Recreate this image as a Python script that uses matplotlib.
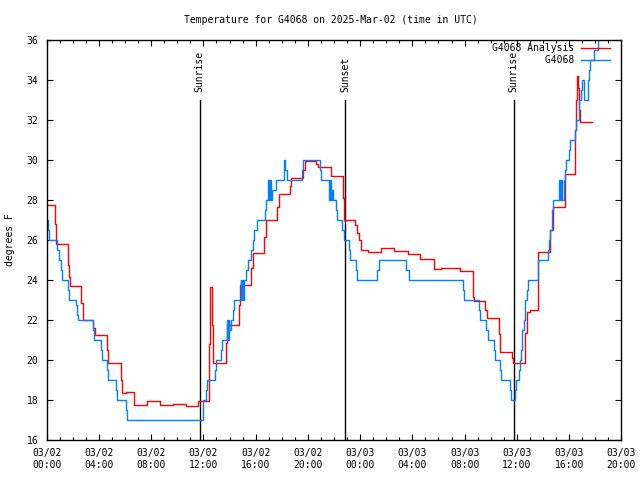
import matplotlib
matplotlib.use("Agg")
import matplotlib.pyplot as plt
from matplotlib.ticker import MultipleLocator

# hours since 2025-03-02 00:00 UTC, temperature in F (step data)
obs_hours = [0.00, 0.12, 0.20, 0.81, 0.92, 1.12, 1.20, 1.66, 1.73, 2.27, 2.34, 2.42,
             3.57, 3.65, 4.14, 4.24, 4.64, 4.72, 5.33, 5.41, 6.05, 6.15,
             12.00, 12.18, 12.31, 12.90, 12.97, 13.32, 13.41, 13.84, 13.89, 13.95,
             13.99, 14.08, 14.30, 14.38, 14.87, 14.91, 14.97, 15.02, 15.07, 15.27,
             15.43, 15.62, 15.79, 15.89, 16.14, 16.73, 16.80, 16.96, 17.03, 17.11,
             17.18, 17.29, 17.59, 18.18, 18.28, 18.39, 19.56, 19.62, 20.92, 20.97,
             21.63, 21.71, 21.79, 21.86, 21.92, 22.15, 22.22, 22.63, 22.73, 23.16,
             23.24, 23.68, 23.75, 25.33, 25.41, 27.54, 27.71, 31.88, 31.95, 33.07,
             33.15, 33.64, 33.79, 34.25, 34.35, 34.74, 34.79, 35.45, 35.53, 35.83,
             35.91, 36.14, 36.21, 36.29, 36.37, 36.42, 36.52, 36.65, 36.78, 36.83,
             37.61, 38.39, 38.49, 38.57, 38.70, 38.74, 39.20, 39.28, 39.41, 39.49,
             39.59, 39.72, 39.80, 39.97, 40.10, 40.43, 40.56, 40.79, 40.94, 41.02,
             41.12, 41.48, 41.53, 41.58, 41.94, 42.20, 42.33, 42.48, 42.60]
obs_temp = [27.0, 26.5, 26.0, 25.5, 25.0, 24.5, 24.0, 23.5, 23.0, 22.75, 22.25, 22.0,
            21.5, 21.0, 20.5, 20.0, 19.5, 19.0, 18.5, 18.0, 17.5, 17.0,
            18.0, 18.5, 19.0, 19.5, 20.0, 20.5, 21.0, 22.0, 21.0, 22.0,
            21.5, 22.0, 22.5, 23.0, 24.0, 23.0, 24.0, 23.0, 24.0, 24.5,
            25.0, 25.5, 26.0, 26.5, 27.0, 27.5, 28.0, 29.0, 28.0, 29.0,
            28.0, 28.5, 29.0, 30.0, 29.5, 29.0, 29.5, 30.0, 29.5, 29.0,
            28.0, 29.0, 28.0, 28.5, 28.0, 27.5, 27.0, 26.5, 26.0, 25.5,
            25.0, 24.5, 24.0, 24.5, 25.0, 24.5, 24.0, 23.5, 23.0, 22.5,
            22.0, 21.5, 21.0, 20.5, 20.0, 19.5, 19.0, 18.5, 18.0, 18.5,
            19.0, 19.5, 20.0, 20.5, 21.0, 21.5, 22.0, 23.0, 23.5, 24.0,
            25.0, 25.5, 26.0, 26.5, 27.5, 28.0, 29.0, 28.0, 29.0, 28.0,
            29.0, 29.5, 30.0, 30.5, 31.0, 31.5, 32.0, 33.0, 33.5, 34.0,
            33.0, 34.0, 34.5, 35.0, 35.5, 36.0, 36.5, 37.0, 37.0]

ana_hours = [0.00, 0.66, 0.75, 1.66, 1.71, 1.81, 2.65, 2.76, 3.57, 3.70, 4.64, 4.72,
             5.67, 5.79, 6.05, 6.67, 7.66, 8.64, 9.70, 10.67, 11.62, 12.44, 12.51,
             12.67, 12.77, 13.70, 13.79, 14.71, 14.81, 15.68, 15.79, 16.67, 16.78,
             17.67, 17.78, 18.64, 18.74, 19.66, 19.77, 20.64, 20.74, 21.76, 22.68,
             22.78, 23.62, 23.74, 23.93, 24.08, 24.64, 25.59, 26.56, 27.63, 28.60,
             29.62, 30.19, 31.62, 32.61, 32.69, 33.59, 33.72, 34.66, 34.71, 35.63,
             35.71, 36.59, 36.75, 37.03, 37.59, 38.57, 38.74, 39.66, 40.43, 40.52,
             40.61, 40.69, 40.75, 40.83, 41.76]
ana_temp = [27.73, 26.8, 25.8, 24.75, 24.17, 23.7, 22.87, 22.0, 21.58, 21.23, 20.5, 19.83,
            19.0, 18.37, 18.4, 17.75, 17.95, 17.75, 17.8, 17.7, 17.95, 20.8, 23.67,
            21.75, 19.83, 20.83, 21.75, 22.75, 23.75, 24.58, 25.37, 26.17, 27.0,
            27.67, 28.28, 28.72, 29.08, 29.5, 29.93, 29.8, 29.63, 29.2, 28.1,
            27.0, 26.75, 26.33, 26.0, 25.5, 25.42, 25.58, 25.45, 25.3, 25.05,
            24.55, 24.6, 24.45, 23.17, 22.97, 22.5, 22.08, 21.3, 20.38, 20.08,
            19.85, 21.33, 22.42, 22.5, 25.38, 26.5, 27.63, 29.28, 31.5, 33.0,
            34.2, 33.6, 32.5, 31.88, 31.88]

event_hours = [11.72, 22.88, 35.75]
event_labels = ["Sunrise", "Sunset", "Sunrise"]

tick_hours = [0, 4, 8, 12, 16, 20, 24, 28, 32, 36, 40, 44]
tick_labels = ["03/02\n00:00", "03/02\n04:00", "03/02\n08:00", "03/02\n12:00",
               "03/02\n16:00", "03/02\n20:00", "03/03\n00:00", "03/03\n04:00",
               "03/03\n08:00", "03/03\n12:00", "03/03\n16:00", "03/03\n20:00"]

plt.rcParams['font.family'] = ['DejaVu Sans Mono']
plt.rcParams['font.size'] = 7

RED = '#ff0000'
BLUE = '#0080ff'

fig = plt.figure(figsize=(6.4, 4.8), dpi=100)
ax = fig.add_axes([46.7/640, 40/480, (621.3-46.7)/640, 400/480])

ax.plot(ana_hours, ana_temp, drawstyle='steps-post', color=RED, lw=1.0,
        label='G4068 Analysis')
ax.plot(obs_hours, obs_temp, drawstyle='steps-post', color=BLUE, lw=1.0,
        label='         G4068')

# sunrise / sunset markers
trans = ax.get_xaxis_transform()
for h, lab in zip(event_hours, event_labels):
    ax.plot([h, h], [0, 0.85], color='black', lw=1, transform=trans, zorder=1)
    ax.text(h, 0.87, lab, rotation=90, ha='center', va='bottom', transform=trans)

ax.set_xlim(0, 44)
ax.set_ylim(16, 36)
ax.set_xticks(tick_hours)
ax.set_xticklabels(tick_labels)
ax.xaxis.set_minor_locator(MultipleLocator(1))
ax.set_yticks(range(16, 37, 2))
ax.tick_params(which='both', direction='in', top=True, right=True, colors='black')
ax.tick_params(which='major', length=4.5, width=0.8)
ax.tick_params(which='minor', length=2.5, width=0.8)
ax.tick_params(axis='x', which='major', pad=6)
ax.tick_params(axis='y', which='major', pad=6)
for s in ax.spines.values():
    s.set_linewidth(1)

leg = ax.legend(loc='upper right', bbox_to_anchor=(1 - 11/574.6, 1 - 3/400),
                frameon=False, markerfirst=False, handlelength=3.0,
                handletextpad=0.7, borderpad=0, borderaxespad=0, labelspacing=0.25)

fig.text(331/640, 1 - 20/480, 'Temperature for G4068 on 2025-Mar-02 (time in UTC)',
         ha='center', va='center')
fig.text(10/640, 0.5, 'degrees F', rotation=90, ha='center', va='center')

fig.savefig('out.png', dpi=100)
